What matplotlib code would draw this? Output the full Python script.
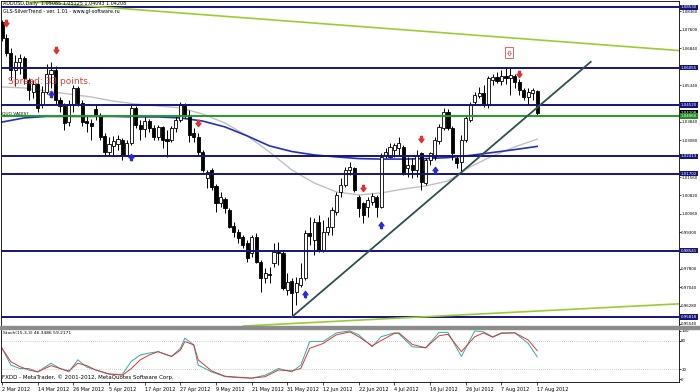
import matplotlib.pyplot as plt
from matplotlib.transforms import blended_transform_factory
from matplotlib.patches import Rectangle

# AUDUSD daily bars, 2 Mar 2012 .. 17 Aug 2012
opens = [1.0793, 1.0727, 1.0665, 1.0596, 1.0629, 1.0645, 1.0555, 1.0505, 1.0538, 1.0456,
         1.0505, 1.0579, 1.0596, 1.0473, 1.0448, 1.0382, 1.0452, 1.0522, 1.0460, 1.0386,
         1.0378, 1.0436, 1.0407, 1.0325, 1.0259, 1.0284, 1.0292, 1.0308, 1.0247, 1.0296,
         1.0440, 1.0370, 1.0353, 1.0386, 1.0358, 1.0321, 1.0362, 1.0312, 1.0308, 1.0358,
         1.0390, 1.0452, 1.0407, 1.0337, 1.0321, 1.0259, 1.0152, 1.0185, 1.0120, 1.0050,
         1.0066, 1.0021, 0.9955, 0.9931, 0.9910, 0.9886, 0.9844, 0.9910, 0.9808, 0.9742,
         0.9758, 0.9803, 0.9849, 0.9844, 0.9693, 0.9730, 0.9684, 0.9713, 0.9742, 0.9927,
         0.9898, 0.9972, 0.9857, 0.9931, 0.9951, 1.0013, 1.0095, 1.0124, 1.0185, 1.0193,
         1.0074, 1.0050, 1.0033, 1.0054, 1.0074, 1.0033, 1.0243, 1.0239, 1.0267, 1.0276,
         1.0280, 1.0193, 1.0206, 1.0185, 1.0255, 1.0132, 1.0226, 1.0239, 1.0304, 1.0358,
         1.0423, 1.0358, 1.0234, 1.0218, 1.0308, 1.0390, 1.0464, 1.0489, 1.0501, 1.0452,
         1.0555, 1.0567, 1.0550, 1.0571, 1.0563, 1.0571, 1.0546, 1.0514, 1.0485, 1.0501,
         1.05085]
highs = [1.0801, 1.0743, 1.0686, 1.0657, 1.0661, 1.0653, 1.0563, 1.0555, 1.0555, 1.0530,
         1.0620, 1.0629, 1.0612, 1.0485, 1.0460, 1.0473, 1.0534, 1.0530, 1.0473, 1.0411,
         1.0395, 1.0452, 1.0419, 1.0337, 1.0321, 1.0325, 1.0329, 1.0317, 1.0308, 1.0452,
         1.0448, 1.0390, 1.0407, 1.0395, 1.0370, 1.0370, 1.0366, 1.0349, 1.0366, 1.0407,
         1.0464, 1.0460, 1.0431, 1.0358, 1.0337, 1.0267, 1.0185, 1.0193, 1.0128, 1.0095,
         1.0074, 1.0029, 0.9972, 0.9943, 0.9918, 0.9898, 0.9918, 0.9927, 0.9816, 0.9783,
         0.9787, 0.9886, 0.9890, 0.9853, 0.9762, 0.9742, 0.9746, 0.9803, 0.9939, 0.9992,
         0.9988, 1.0000, 0.9980, 0.9992, 1.0033, 1.0095, 1.0152, 1.0198, 1.0218, 1.0198,
         1.0083, 1.0054, 1.0074, 1.0091, 1.0083, 1.0255, 1.0276, 1.0296, 1.0296, 1.0321,
         1.0288, 1.0239, 1.0234, 1.0267, 1.0259, 1.0234, 1.0259, 1.0321, 1.0374, 1.0440,
         1.0436, 1.0366, 1.0243, 1.0329, 1.0411, 1.0464, 1.0505, 1.0526, 1.0534, 1.0571,
         1.0579, 1.0587, 1.0596, 1.0608, 1.0608, 1.0579, 1.0559, 1.0522, 1.0522, 1.0522,
         1.05125]
lows = [1.0715, 1.0653, 1.0555, 1.0530, 1.0579, 1.0538, 1.0473, 1.0481, 1.0423, 1.0440,
        1.0497, 1.0522, 1.0456, 1.0423, 1.0349, 1.0366, 1.0423, 1.0448, 1.0366, 1.0341,
        1.0308, 1.0390, 1.0308, 1.0247, 1.0247, 1.0247, 1.0267, 1.0226, 1.0243, 1.0288,
        1.0358, 1.0308, 1.0321, 1.0341, 1.0308, 1.0308, 1.0276, 1.0239, 1.0300, 1.0341,
        1.0382, 1.0399, 1.0300, 1.0300, 1.0247, 1.0177, 1.0111, 1.0103, 1.0013, 1.0033,
        1.0009, 0.9947, 0.9910, 0.9886, 0.9865, 0.9808, 0.9828, 0.9803, 0.9684, 0.9721,
        0.9721, 0.9787, 0.9795, 0.9693, 0.9672, 0.9582, 0.9631, 0.9705, 0.9734, 0.9877,
        0.9836, 0.9849, 0.9849, 0.9918, 0.9918, 1.0000, 1.0074, 1.0115, 1.0165, 1.0095,
        0.9992, 0.9968, 0.9992, 1.0042, 0.9992, 1.0029, 1.0234, 1.0234, 1.0239, 1.0247,
        1.0165, 1.0156, 1.0152, 1.0156, 1.0103, 1.0124, 1.0206, 1.0226, 1.0292, 1.0349,
        1.0349, 1.0226, 1.0193, 1.0173, 1.0300, 1.0382, 1.0452, 1.0481, 1.0444, 1.0440,
        1.0534, 1.0542, 1.0534, 1.0538, 1.0493, 1.0522, 1.0493, 1.0473, 1.0452, 1.0473,
        1.04093]
closes = [1.0727, 1.0665, 1.0596, 1.0629, 1.0645, 1.0563, 1.0514, 1.0538, 1.0440, 1.0505,
          1.0579, 1.0596, 1.0473, 1.0448, 1.0378, 1.0452, 1.0522, 1.0460, 1.0382, 1.0378,
          1.0366, 1.0407, 1.0321, 1.0259, 1.0292, 1.0304, 1.0312, 1.0247, 1.0296, 1.0440,
          1.0370, 1.0353, 1.0386, 1.0358, 1.0321, 1.0362, 1.0308, 1.0304, 1.0358, 1.0390,
          1.0452, 1.0407, 1.0329, 1.0321, 1.0259, 1.0185, 1.0177, 1.0115, 1.0050, 1.0074,
          1.0029, 0.9951, 0.9931, 0.9906, 0.9877, 0.9824, 0.9910, 0.9808, 0.9742, 0.9762,
          0.9754, 0.9849, 0.9844, 0.9701, 0.9725, 0.9680, 0.9721, 0.9742, 0.9927, 0.9914,
          0.9972, 0.9857, 0.9931, 0.9951, 1.0021, 1.0083, 1.0124, 1.0185, 1.0198, 1.0103,
          1.0029, 1.0000, 1.0062, 1.0078, 1.0033, 1.0239, 1.0259, 1.0280, 1.0288, 1.0296,
          1.0173, 1.0206, 1.0185, 1.0247, 1.0136, 1.0226, 1.0255, 1.0308, 1.0362, 1.0423,
          1.0358, 1.0255, 1.0214, 1.0308, 1.0399, 1.0452, 1.0493, 1.0501, 1.0452, 1.0563,
          1.0567, 1.0550, 1.0571, 1.0563, 1.0575, 1.0546, 1.0514, 1.0485, 1.0505, 1.0514,
          1.04208]

# moving averages, read every 5 bars
ma_bars = list(range(0, 121, 5))
ma_blue = [1.0382, 1.0399, 1.0405, 1.0405, 1.0405, 1.0405, 1.0403, 1.0403, 1.0399, 1.0386,
           1.0362, 1.0325, 1.0284, 1.0261, 1.0247, 1.0239, 1.0232, 1.0230, 1.0230, 1.0232,
           1.0236, 1.0245, 1.0257, 1.0269, 1.0282]
ma_grey = [1.0526, 1.0522, 1.0509, 1.0497, 1.0485, 1.0468, 1.0456, 1.0448, 1.0440, 1.0415,
           1.0378, 1.0325, 1.0259, 1.0185, 1.0132, 1.0095, 1.0083, 1.0091, 1.0107, 1.0120,
           1.0140, 1.0198, 1.0243, 1.0280, 1.0312]

levels = [1.08530, 1.06055, 1.04520, 1.02413, 1.01702, 0.98541, 0.95818]
green_level = 1.04060
bid = 1.04208
price_ticks = [1.0836, 1.0760, 1.0684, 1.0534, 1.0384, 1.0308, 1.0156, 1.0082, 1.0006,
               0.9930, 0.9780, 0.9704, 0.9628, 0.9554]

date_bars = list(range(0, 121, 8))
date_labels = ['2 Mar 2012', '14 Mar 2012', '26 Mar 2012', '5 Apr 2012', '17 Apr 2012',
               '27 Apr 2012', '9 May 2012', '21 May 2012', '31 May 2012', '12 Jun 2012',
               '22 Jun 2012', '4 Jul 2012', '16 Jul 2012', '26 Jul 2012', '7 Aug 2012',
               '17 Aug 2012']

sell_bars = [1, 12, 44, 81, 94, 116]
sell_prices = [1.0789, 1.0678, 1.0378, 1.0111, 1.0312, 1.0579]
buy_bars = [11, 29, 68, 85, 97]
buy_prices = [1.0497, 1.0239, 0.9676, 0.9959, 1.0185]

top_line = [(0, 1.0885), (150, 1.0678)]
bottom_line = [(78, 0.9567), (151, 0.9635)]
support_line = [(65, 0.9582), (132, 1.0629)]

stoch_bars = [0, 2, 4, 6, 8, 11, 13, 15, 17, 19, 21, 24, 27, 29, 31, 33, 35, 38, 40, 41,
              43, 44, 47, 50, 53, 56, 59, 62, 65, 67, 69, 72, 75, 78, 80, 83, 85, 88, 89, 92,
              95, 98, 100, 103, 106, 108, 110, 112, 115, 118, 120]
stoch_main = [64, 29, 22, 22, 15, 33, 22, 15, 40, 25, 19, 10, 10, 37, 50, 54, 57, 47, 64, 85,
              71, 29, 15, 5, 3, 2, 8, 22, 15, 29, 78, 78, 96, 100, 92, 67, 88, 96, 94, 67,
              65, 97, 97, 47, 100, 98, 88, 96, 96, 74, 46.3486]
stoch_signal = [64, 36, 26, 19, 15, 28, 22, 17, 33, 28, 19, 11, 8, 22, 40, 50, 57, 47, 60, 78,
                71, 40, 17, 6, 4, 2, 5, 19, 17, 22, 64, 74, 92, 98, 88, 69, 80, 95, 96, 72,
                65, 90, 93, 57, 88, 96, 87, 95, 96, 81, 59.2171]

fig = plt.figure(figsize=(7, 3.92), dpi=100)
ax = fig.add_axes([1/700, 66/392, 678/700, 325/392])
ax2 = fig.add_axes([1/700, 10/392, 678/700, 53/392])
fig.patches.append(Rectangle((0, 63/392), 1, 3/392, transform=fig.transFigure,
                             color='#8c8c8c', zorder=0))

n = len(closes)
xs = list(range(n))
body_lo = [min(o, c) for o, c in zip(opens, closes)]
body_h = [max(abs(c - o), 0.00006) for o, c in zip(opens, closes)]
colors = ['white' if c >= o else 'black' for o, c in zip(opens, closes)]

ax.vlines(xs, lows, highs, color='black', lw=0.7, zorder=3)
ax.bar(xs, body_h, bottom=body_lo, width=0.7, color=colors, edgecolor='black',
       linewidth=0.6, zorder=4)

ax.plot(ma_bars, ma_grey, color='#c0c0c0', lw=1.0, zorder=2)
ax.plot(ma_bars, ma_blue, color='#2030c0', lw=1.2, zorder=2)

for lv in levels:
    ax.axhline(lv, color='#14147e', lw=1.4, zorder=5)
ax.axhline(green_level, color='#1e9e1e', lw=1.4, zorder=5)

ax.axline(top_line[0], top_line[1], color='#9acd32', lw=1.2, zorder=5)
ax.axline(bottom_line[0], bottom_line[1], color='#9acd32', lw=1.2, zorder=5)
ax.plot([support_line[0][0], support_line[1][0]], [support_line[0][1], support_line[1][1]],
        color='#2f4f4f', lw=1.3, zorder=6)

down_arrow = [(-0.3, 1), (0.3, 1), (0.3, 0.1), (0.8, 0.1), (0, -1), (-0.8, 0.1), (-0.3, 0.1),
              (-0.3, 1)]
up_arrow = [(px, -py) for px, py in down_arrow]
ax.plot(sell_bars, sell_prices, ls='none', marker=down_arrow, ms=4.5, color='#e03030',
        zorder=7)
ax.plot(buy_bars, buy_prices, ls='none', marker=up_arrow, ms=4.5, color='#2a2ad0', zorder=7)

# signal box near the top
ax.add_patch(Rectangle((112.8, 1.0645), 1.8, 0.0045, fill=False, ec='#e05050', lw=0.6,
                       zorder=7))
ax.plot([113.7], [1.0667], marker=down_arrow, ms=3.5, mfc='none', mec='#e05050', mew=0.5,
        ls='none', zorder=7)

ax.set_xlim(-0.22, 151.8)
ax.set_ylim(0.95448, 1.08789)
ax.set_xticks([])
ax.yaxis.tick_right()
ax.set_yticks(price_ticks)
ax.set_yticklabels([f'{p:.5f}' for p in price_ticks])
ax.tick_params(axis='y', labelsize=2.9, length=1.2, width=0.5, pad=0.4, colors='black')
for s in ax.spines.values():
    s.set_linewidth(0.6)

tr = blended_transform_factory(ax.transAxes, ax.transData)
box_kw = dict(fontsize=2.9, color='white', va='center', ha='left', transform=tr,
              clip_on=False, zorder=10)
for lv in levels:
    ax.text(1.003, lv, f'{lv:.5f}', bbox=dict(boxstyle='square,pad=0.2', fc='#14147e',
                                               ec='none'), **box_kw)
ax.text(1.003, bid, f'{bid:.5f}', bbox=dict(boxstyle='square,pad=0.2', fc='black',
                                             ec='none'), **box_kw)
ax.text(1.003, green_level, f'{green_level:.5f}', bbox=dict(boxstyle='square,pad=0.2',
                                                             fc='#1e8e1e', ec='none'), **box_kw)

# stochastic panel
ax2.plot(stoch_bars, stoch_main, color='#20b2aa', lw=0.7)
ax2.plot(stoch_bars, stoch_signal, color='#e03030', lw=0.7)
ax2.axhline(20, color='#a0a0a0', lw=0.5, ls=(0, (1, 2)))
ax2.axhline(80, color='#a0a0a0', lw=0.5, ls=(0, (1, 2)))
ax2.set_xlim(-0.22, 151.8)
ax2.set_ylim(-6, 104)
ax2.yaxis.tick_right()
ax2.set_yticks([0, 20, 80, 100])
ax2.set_yticklabels(['0', '20', '80', '100'])
ax2.tick_params(axis='y', labelsize=2.9, length=1.2, width=0.5, pad=0.4)
ax2.set_xticks(date_bars)
ax2.set_xticklabels(date_labels, ha='left')
ax2.tick_params(axis='x', labelsize=3.5, length=2, width=0.5, pad=1.5)
for s in ax2.spines.values():
    s.set_linewidth(0.6)

fig.text(3/700, 1 - 4/392, 'AUDUSD,Daily  1.05085 1.05125 1.04093 1.04208', fontsize=3.5,
         va='center')
fig.text(3/700, 1 - 11/392, 'GLS-SilverTrend - ver. 1.01 - www.gl-software.ru', fontsize=3.5,
         va='center')
fig.text(8/700, 1 - 81/392, 'Spread: 33 points.', color='#e03c3c', fontsize=6.5, va='center')
fig.text(2/700, 1 - 113.5/392, 'QUO VADIS?', fontsize=3.2, va='center')
fig.text(3/700, 1 - 333/392, 'Stoch(15,3,3) 46.3486 59.2171', fontsize=3.2, va='center')
fig.text(2/700, 1 - 377/392, 'FXDD - MetaTrader, \u00a9 2001-2012, MetaQuotes Software Corp.',
         fontsize=4, va='center')

fig.savefig('out.png', dpi=100)
